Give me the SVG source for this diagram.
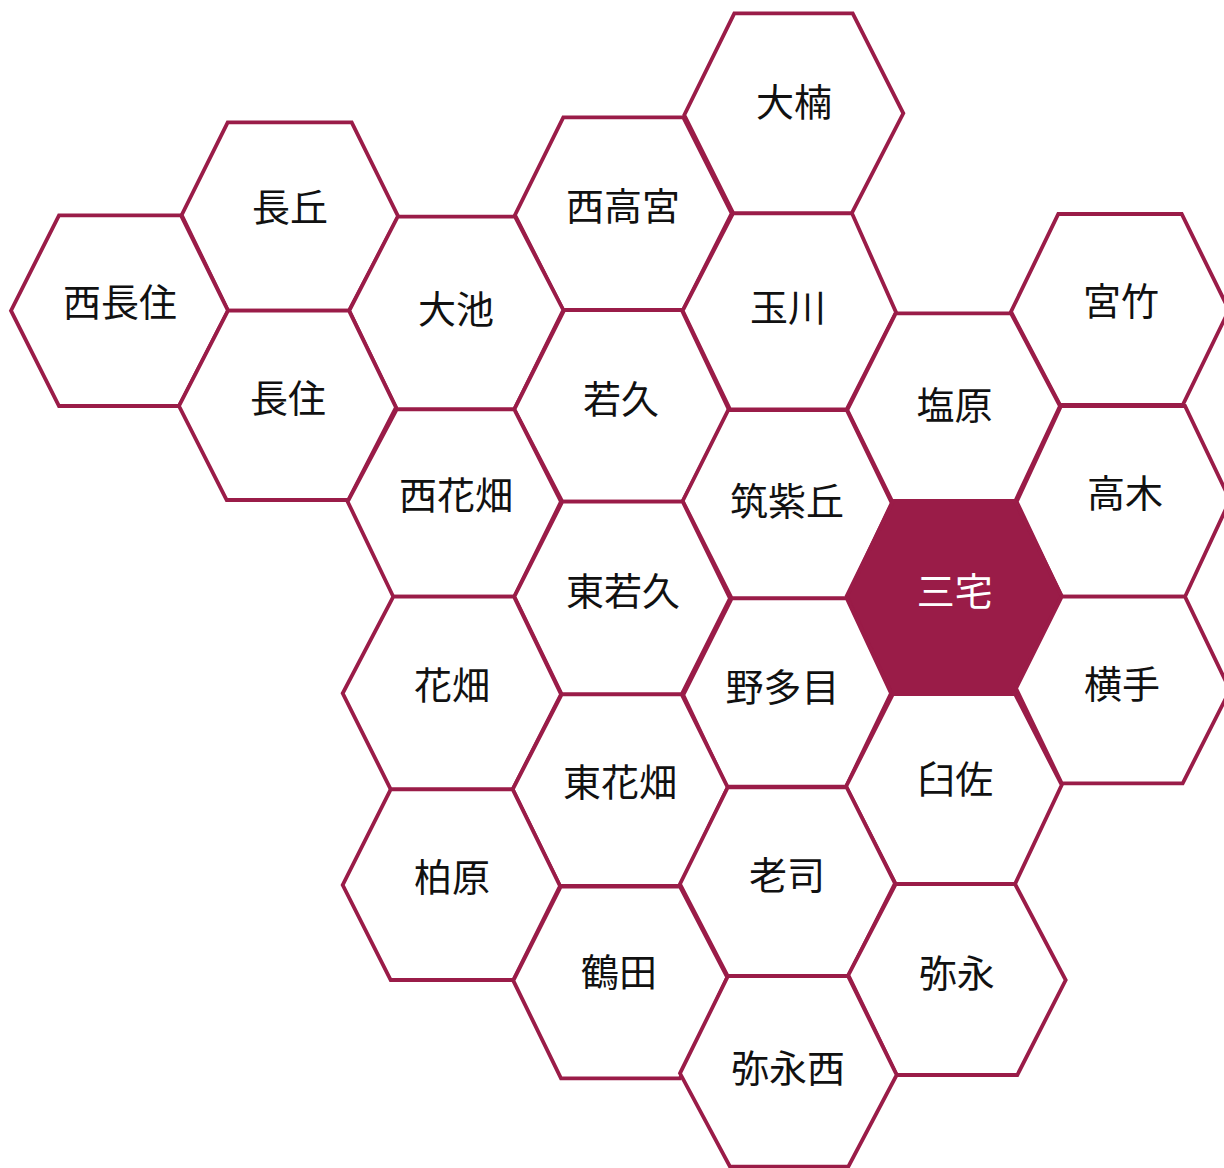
<svg xmlns="http://www.w3.org/2000/svg" width="1224" height="1168" viewBox="0 0 1224 1168">
<style>
.hex{fill:#ffffff;stroke:#9a1c48;stroke-width:3.8;stroke-linejoin:miter}
.hex.sel{fill:#9a1c48}
.lbl{font-family:"Noto Sans CJK JP","Noto Sans CJK SC",sans-serif;font-size:38px;fill:#111111;text-anchor:middle}
.lbl.sel{fill:#ffffff}
</style>
<rect width="1224" height="1168" fill="#ffffff"/>
<g id="ogusu"><polygon class="hex" points="734.3,13.3 852.7,13.3 903.3,113.3 851.7,213.3 733.3,213.3 684.3,115"/><text class="lbl" x="794" y="116">大楠</text></g>
<g id="nagaoka"><polygon class="hex" points="227.7,122.3 351.7,122.3 398.3,216.7 349,310.7 228,310.7 181.7,215"/><text class="lbl" x="290" y="221">長丘</text></g>
<g id="nishitakamiya"><polygon class="hex" points="563.3,117.3 683.3,117.3 731.7,213.3 682.7,310.7 563.3,310.7 515,215"/><text class="lbl" x="623" y="220">西高宮</text></g>
<g id="nishinagazumi"><polygon class="hex" points="59,215.3 181,215.3 228,310.7 179,406 59,406 11,310.7"/><text class="lbl" x="120" y="316">西長住</text></g>
<g id="oike"><polygon class="hex" points="397.7,216.7 515,216.7 563.3,310 514.3,409.3 396.7,409.3 349.3,310.7"/><text class="lbl" x="456" y="323">大池</text></g>
<g id="tamagawa"><polygon class="hex" points="733,213.3 852,213.3 896,312.3 846.7,409.3 730,409.3 682.7,310.7"/><text class="lbl" x="788" y="321">玉川</text></g>
<g id="miyatake"><polygon class="hex" points="1058.3,214 1181.7,214 1229,310 1182.7,405 1060,405 1011,311.7"/><text class="lbl" x="1121" y="315">宮竹</text></g>
<g id="nagazumi"><polygon class="hex" points="228,310.7 349,310.7 396,407.3 348.3,500 226.7,500 179,406"/><text class="lbl" x="288" y="412">長住</text></g>
<g id="wakahisa"><polygon class="hex" points="564.3,310 681.7,310 729,410 682.7,501.7 562.3,501.7 514.3,409.3"/><text class="lbl" x="621" y="413">若久</text></g>
<g id="shiobaru"><polygon class="hex" points="895.7,313.3 1011,313.3 1060,406 1015,501.7 892.3,501.7 847.3,410"/><text class="lbl" x="954.5" y="419">塩原</text></g>
<g id="nishihanabata"><polygon class="hex" points="396.7,409.3 514.3,409.3 561,501.7 514.3,596.7 393.3,596.7 347.7,501.7"/><text class="lbl" x="456" y="509">西花畑</text></g>
<g id="chikushigaoka"><polygon class="hex" points="728.3,410 846.7,410 891.7,503 846.7,598.3 731.7,598.3 682.7,501"/><text class="lbl" x="787" y="515">筑紫丘</text></g>
<g id="takagi"><polygon class="hex" points="1061,406 1185,406 1230,500 1185,596.7 1061.7,596.7 1016.7,501.7"/><text class="lbl" x="1125" y="507">高木</text></g>
<g id="higashiwakahisa"><polygon class="hex" points="562.3,501.7 682.7,501.7 730,598.3 681.7,694.3 561.7,694.3 514.3,596.7"/><text class="lbl" x="623" y="605">東若久</text></g>
<g id="miyake"><polygon class="hex sel" points="893.3,501 1015,501 1061.7,596 1015,694 891.7,694 846.7,596"/><text class="lbl sel" x="954.7" y="605">三宅</text></g>
<g id="hanabata"><polygon class="hex" points="393.3,596.7 514,596.7 561,694.3 512.7,789.3 390.7,789.3 342.7,693.3"/><text class="lbl" x="452" y="699">花畑</text></g>
<g id="notame"><polygon class="hex" points="731.7,598.3 846.7,598.3 891,693.3 846,786.7 726.7,786.7 683.3,695"/><text class="lbl" x="782.5" y="701">野多目</text></g>
<g id="yokote"><polygon class="hex" points="1061.7,596.7 1185,596.7 1230,690 1182.7,783.3 1061.7,783.3 1016,688.3"/><text class="lbl" x="1122" y="698">横手</text></g>
<g id="higashihanabata"><polygon class="hex" points="561.7,694.3 681.7,694.3 727.7,787.3 680,886 560,886 512.7,789.3"/><text class="lbl" x="620" y="796">東花畑</text></g>
<g id="usuza"><polygon class="hex" points="893,694 1015,694 1061.7,785 1015,884 895.7,884 846,786.7"/><text class="lbl" x="955.3" y="793">臼佐</text></g>
<g id="kashiwara"><polygon class="hex" points="390.7,789.3 512.7,789.3 560,886 513.3,980 390.7,980 342.7,885"/><text class="lbl" x="452" y="891">柏原</text></g>
<g id="roji"><polygon class="hex" points="727.7,787.3 846.7,787.3 895,883.3 848.3,976 727.7,976 680,884"/><text class="lbl" x="787" y="889">老司</text></g>
<g id="tsuruta"><polygon class="hex" points="560.7,886.7 680,886.7 727.3,977.3 680,1078.3 561,1078.3 513.3,980.7"/><text class="lbl" x="619" y="986">鶴田</text></g>
<g id="yanaga"><polygon class="hex" points="895.7,884 1015,884 1065.7,980 1017.3,1075 896.7,1075 848.3,975"/><text class="lbl" x="956.7" y="987">弥永</text></g>
<g id="yanaganishi"><polygon class="hex" points="728,976 848,976 896.7,1075 848.3,1166.7 730,1166.7 680,1073.3"/><text class="lbl" x="788" y="1082">弥永西</text></g>
</svg>
